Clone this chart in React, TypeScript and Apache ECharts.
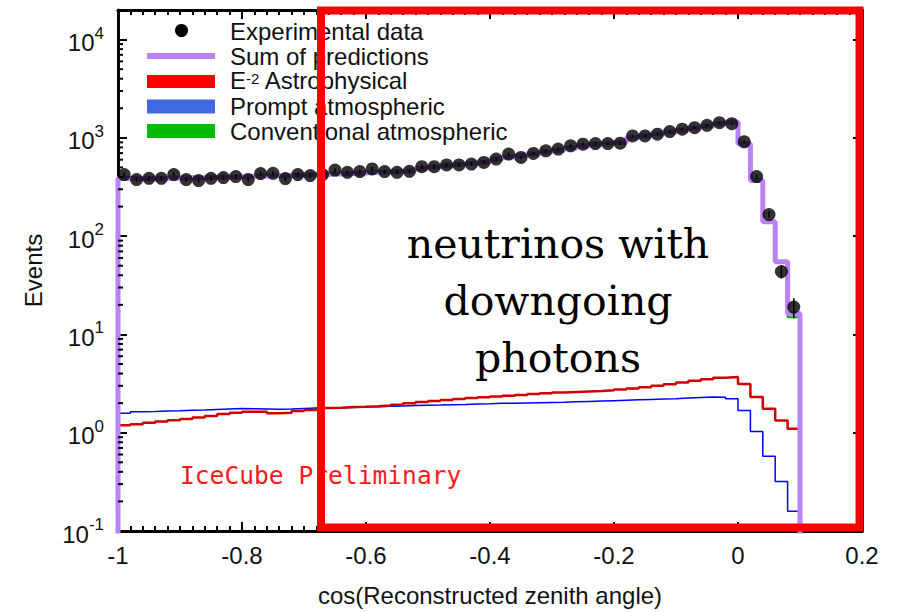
import { useEffect, useRef } from "react";
import * as echarts from "echarts";

// Bin edges of cos(reconstructed zenith angle)
const binEdges = [
  -1, -0.98, -0.96, -0.94, -0.92, -0.9, -0.88, -0.86, -0.84, -0.82, -0.8, -0.78, -0.76, -0.74,
  -0.72, -0.7, -0.68, -0.66, -0.64, -0.62, -0.6, -0.58, -0.56, -0.54, -0.52, -0.5, -0.48, -0.46,
  -0.44, -0.42, -0.4, -0.38, -0.36, -0.34, -0.32, -0.3, -0.28, -0.26, -0.24, -0.22, -0.2, -0.18,
  -0.16, -0.14, -0.12, -0.1, -0.08, -0.06, -0.04, -0.02, 0, 0.02, 0.04, 0.06, 0.08, 0.1,
];

// Experimental data (events per bin)
const experimental = [
  423, 377, 388, 388, 423, 377, 368, 388, 394, 404,
  377, 433, 436, 385, 423, 413, 423, 470, 446, 454,
  483, 454, 446, 457, 509, 509, 530, 530, 542, 563,
  609, 684, 632, 694, 739, 769, 830, 863, 875, 875,
  883, 1047, 1047, 1089, 1158, 1225, 1271, 1343, 1428, 1394,
  912, 404, 166, 43.6, 19.0,
];

// Statistical error of the data
const experimentalErr = [
  21, 19, 20, 20, 21, 19, 19, 20, 20, 20,
  19, 21, 21, 20, 21, 20, 21, 22, 21, 21,
  22, 21, 21, 21, 23, 23, 23, 23, 23, 24,
  25, 26, 25, 26, 27, 28, 29, 29, 30, 30,
  30, 32, 32, 33, 34, 35, 36, 37, 38, 37,
  30, 20, 13, 6.6, 4.4,
];

const sumPredictions = [
  385, 385, 387, 389, 391, 393, 395, 398, 400, 403,
  406, 409, 412, 415, 418, 422, 426, 430, 435, 440,
  446, 452, 458, 465, 490, 505, 520, 535, 550, 565,
  610, 640, 660, 690, 720, 750, 790, 830, 860, 880,
  900, 1000, 1050, 1100, 1150, 1200, 1260, 1320, 1400, 1450,
  870, 368, 140, 55, 16.3,
];

const astrophysical = [
  1.19, 1.22, 1.26, 1.30, 1.34, 1.38, 1.43, 1.48, 1.55, 1.60,
  1.63, 1.63, 1.58, 1.60, 1.66, 1.70, 1.78, 1.80, 1.83, 1.84,
  1.86, 1.89, 1.93, 1.99, 2.05, 2.10, 2.15, 2.20, 2.26, 2.30,
  2.34, 2.38, 2.42, 2.47, 2.52, 2.57, 2.60, 2.63, 2.66, 2.70,
  2.76, 2.82, 2.90, 3.00, 3.12, 3.25, 3.38, 3.50, 3.62, 3.68,
  3.13, 2.31, 1.75, 1.33, 1.10,
];

const promptAtm = [
  1.58, 1.63, 1.64, 1.66, 1.67, 1.69, 1.70, 1.72, 1.74, 1.76,
  1.75, 1.74, 1.73, 1.74, 1.76, 1.78, 1.79, 1.80, 1.81, 1.83,
  1.84, 1.86, 1.87, 1.89, 1.90, 1.91, 1.93, 1.94, 1.96, 1.97,
  1.99, 2.00, 2.01, 2.02, 2.03, 2.04, 2.06, 2.08, 2.10, 2.12,
  2.14, 2.16, 2.18, 2.20, 2.22, 2.25, 2.28, 2.31, 2.30, 2.21,
  1.68, 1.03, 0.575, 0.318, 0.159,
];

const conventionalAtm = [
  381, 381, 383, 385, 387, 389, 391, 394, 396, 399,
  402, 405, 408, 411, 414, 418, 422, 426, 431, 436,
  442, 448, 454, 461, 486, 501, 516, 531, 546, 561,
  606, 636, 656, 686, 716, 746, 786, 826, 856, 876,
  896, 996, 1046, 1096, 1146, 1196, 1256, 1316, 1396, 1446,
  866, 365, 138, 54, 15,
];

// Log-axis minor tick positions
const minorLogTicks = [
  0.2, 0.3, 0.4, 0.5, 0.6, 0.7, 0.8, 0.9,
  2, 3, 4, 5, 6, 7, 8, 9,
  20, 30, 40, 50, 60, 70, 80, 90,
  200, 300, 400, 500, 600, 700, 800, 900,
  2000, 3000, 4000, 5000, 6000, 7000, 8000, 9000,
];

const FONT = "'Liberation Sans', Arial, Helvetica, sans-serif";
const FLOOR = 0.05;

function stepData(vals: number[], dropLeft: boolean, dropRight: boolean) {
  const n = vals.length;
  const out: number[][] = [];
  if (dropLeft) out.push([binEdges[0], FLOOR]);
  for (let i = 0; i < n; i++) out.push([binEdges[i], vals[i]]);
  out.push([binEdges[n], vals[n - 1]]);
  if (dropRight) out.push([binEdges[n], FLOOR]);
  return out;
}

export default function App() {
  const ref = useRef<HTMLDivElement>(null);

  useEffect(() => {
    if (!ref.current) return;
    const chart = echarts.init(ref.current, undefined, { renderer: "svg" });

    const centers = experimental.map((_, i) => (binEdges[i] + binEdges[i + 1]) / 2);
    const points = experimental.map((v, i) => [centers[i], v]);
    const errData = experimental.map((v, i) => [centers[i], v, experimentalErr[i]]);

    const yLabelFormatter = (v: number) => {
      const l = Math.log10(v);
      const e = Math.round(l);
      if (Math.abs(l - e) > 1e-6) return "";
      return `{b|10}{s|${e}}`;
    };
    const xLabelFormatter = (v: number) => {
      if (Math.abs(v) < 1e-9) return "0";
      return String(Math.round(v * 10) / 10);
    };

    const axisLineStyle = { color: "#000", width: 3 };
    const tickStyle = { color: "#000", width: 2 };

    const legendText = (y: number, text: string) => ({
      type: "text",
      x: 230,
      y,
      z: 10,
      style: {
        text,
        font: `24px ${FONT}`,
        fill: "#111",
        verticalAlign: "middle",
      },
    });

    const option: any = {
      animation: false,
      backgroundColor: "#ffffff",
      textStyle: { fontFamily: FONT },
      grid: { left: 118, right: 37, top: 10, bottom: 79, show: false },
      xAxis: [
        {
          type: "value",
          min: -1,
          max: 0.2,
          interval: 0.2,
          position: "bottom",
          name: "cos(Reconstructed zenith angle)",
          nameLocation: "middle",
          nameGap: 52,
          nameTextStyle: { fontSize: 24, color: "#111", fontFamily: FONT },
          axisLine: { show: true, onZero: false, lineStyle: axisLineStyle },
          axisTick: { show: true, inside: true, length: 9, lineStyle: tickStyle },
          minorTick: { show: true, splitNumber: 10, length: 5, lineStyle: tickStyle },
          axisLabel: { fontSize: 24, color: "#111", margin: 12, fontFamily: FONT, formatter: xLabelFormatter },
          splitLine: { show: false },
        },
        {
          type: "value",
          min: -1,
          max: 0.2,
          interval: 0.2,
          position: "top",
          axisLine: { show: true, onZero: false, lineStyle: axisLineStyle },
          axisTick: { show: true, inside: true, length: 9, lineStyle: tickStyle },
          minorTick: { show: true, splitNumber: 10, length: 5, lineStyle: tickStyle },
          axisLabel: { show: false },
          splitLine: { show: false },
        },
      ],
      yAxis: [
        {
          type: "log",
          logBase: 10,
          min: 0.1,
          max: 20000,
          position: "left",
          name: "Events",
          nameLocation: "middle",
          nameRotate: 90,
          nameGap: 73,
          nameTextStyle: { fontSize: 24, color: "#111", fontFamily: FONT },
          axisLine: { show: true, onZero: false, lineStyle: axisLineStyle },
          axisTick: { show: true, inside: true, length: 9, lineStyle: tickStyle },
          axisLabel: {
            margin: 14,
            formatter: yLabelFormatter,
            rich: {
              b: { fontSize: 24, color: "#111", fontFamily: FONT, verticalAlign: "bottom", lineHeight: 30 },
              s: { fontSize: 17, color: "#111", fontFamily: FONT, verticalAlign: "top", lineHeight: 16 },
            },
          },
          splitLine: { show: false },
        },
        {
          type: "log",
          logBase: 10,
          min: 0.1,
          max: 20000,
          position: "right",
          axisLine: { show: true, onZero: false, lineStyle: axisLineStyle },
          axisTick: { show: true, inside: true, length: 9, lineStyle: tickStyle },
          axisLabel: { show: false },
          splitLine: { show: false },
        },
      ],
      series: [
        {
          name: "Conventional atmospheric",
          type: "line",
          step: "end",
          showSymbol: false,
          data: stepData(conventionalAtm, true, true),
          lineStyle: { color: "#00b000", width: 2 },
          itemStyle: { color: "#00b000" },
          z: 2,
        },
        {
          name: "Prompt atmospheric",
          type: "line",
          step: "end",
          showSymbol: false,
          data: stepData(promptAtm, false, true),
          lineStyle: { color: "#0000ff", width: 1.5 },
          itemStyle: { color: "#0000ff" },
          z: 2,
        },
        {
          name: "E-2 Astrophysical",
          type: "line",
          step: "end",
          showSymbol: false,
          data: stepData(astrophysical, false, false),
          lineStyle: { color: "#d00000", width: 2.5 },
          itemStyle: { color: "#d00000" },
          z: 2,
        },
        {
          name: "Sum of predictions",
          type: "line",
          step: "end",
          showSymbol: false,
          data: stepData(sumPredictions, true, true),
          lineStyle: { color: "#bb82f6", width: 5 },
          itemStyle: { color: "#bb82f6" },
          z: 3,
        },
        {
          name: "errors",
          type: "custom",
          data: errData,
          z: 4,
          renderItem: (params: any, api: any) => {
            const x = api.value(0);
            const y = api.value(1);
            const e = api.value(2);
            const p1 = api.coord([x, y + e]);
            const p2 = api.coord([x, Math.max(y - e, 0.11)]);
            return {
              type: "line",
              shape: { x1: p1[0], y1: p1[1], x2: p2[0], y2: p2[1] },
              style: { stroke: "#000", lineWidth: 1.5 },
            };
          },
        },
        {
          name: "Experimental data",
          type: "scatter",
          data: points,
          symbol: "circle",
          symbolSize: 13,
          itemStyle: { color: "#000" },
          z: 5,
        },
        {
          name: "minorTicks",
          type: "custom",
          data: minorLogTicks.map((v) => [-1, v]),
          z: 6,
          silent: true,
          renderItem: (params: any, api: any) => {
            const cs = params.coordSys;
            const y = api.coord([-1, api.value(1)])[1];
            return {
              type: "group",
              children: [
                { type: "line", shape: { x1: cs.x, y1: y, x2: cs.x + 5, y2: y }, style: { stroke: "#000", lineWidth: 2 } },
                {
                  type: "line",
                  shape: { x1: cs.x + cs.width - 5, y1: y, x2: cs.x + cs.width, y2: y },
                  style: { stroke: "#000", lineWidth: 2 },
                },
              ],
            };
          },
        },
      ],
      graphic: [
        // legend
        { type: "circle", shape: { cx: 181.5, cy: 30.5, r: 6.5 }, style: { fill: "#000" }, z: 10 },
        { type: "rect", shape: { x: 147, y: 53, width: 68, height: 6 }, style: { fill: "#bb82f6" }, z: 10 },
        { type: "rect", shape: { x: 147, y: 75, width: 68, height: 13 }, style: { fill: "#ff0000" }, z: 10 },
        { type: "rect", shape: { x: 147, y: 99.5, width: 68, height: 14 }, style: { fill: "#4169e1" }, z: 10 },
        { type: "rect", shape: { x: 147, y: 124, width: 68, height: 14 }, style: { fill: "#00bb00" }, z: 10 },
        legendText(31, "Experimental data"),
        legendText(56, "Sum of predictions"),
        {
          type: "text",
          x: 230,
          y: 81.5,
          z: 10,
          style: {
            text: "{b|E}{s|-2}{b| Astrophysical}",
            verticalAlign: "middle",
            rich: {
              b: { fontSize: 24, fontFamily: FONT, fill: "#111", color: "#111", verticalAlign: "bottom", lineHeight: 22 },
              s: { fontSize: 15, fontFamily: FONT, fill: "#111", color: "#111", verticalAlign: "top", lineHeight: 10 },
            },
          },
        },
        legendText(106, "Prompt atmospheric"),
        legendText(131, "Conventional atmospheric"),
        // watermark
        {
          type: "text",
          x: 180,
          y: 475,
          z: 10,
          style: {
            text: "IceCube Preliminary",
            font: "24.6px 'DejaVu Sans Mono', 'Liberation Mono', monospace",
            fill: "#ff1a1a",
            verticalAlign: "middle",
          },
        },
        // annotation box
        {
          type: "rect",
          shape: { x: 321, y: 10.5, width: 538.5, height: 517 },
          style: { fill: "none", stroke: "#ff0000", lineWidth: 8 },
          z: 20,
        },
        {
          type: "text",
          x: 558,
          y: 301,
          z: 20,
          style: {
            text: "neutrinos with\ndowngoing\nphotons",
            font: "41px 'DejaVu Serif', 'Liberation Serif', serif",
            fill: "#000",
            align: "center",
            verticalAlign: "middle",
            lineHeight: 57,
          },
        },
      ],
    };

    chart.setOption(option);
    return () => chart.dispose();
  }, []);

  return (
    <div
      ref={ref}
      style={{ position: "fixed", left: 0, top: 0, width: 899, height: 612, background: "#fff" }}
    />
  );
}
